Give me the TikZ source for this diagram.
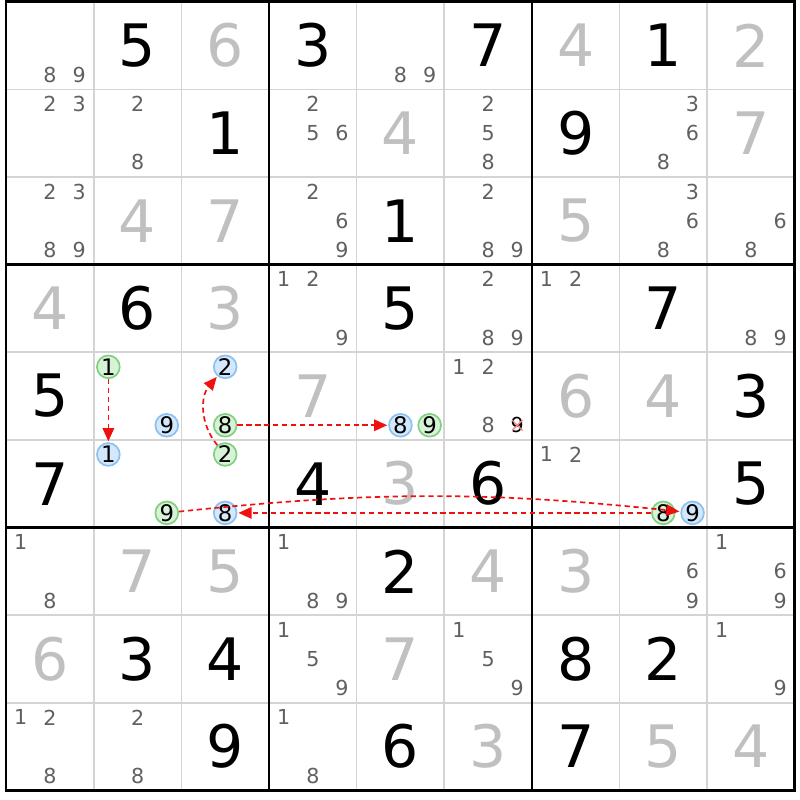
\documentclass[tikz,border=0pt]{standalone}
\usepackage{fontspec}
\setmainfont{DejaVu Sans}
\usepackage{xcolor}
\usetikzlibrary{arrows.meta, calc}

\definecolor{thingrid}{HTML}{D4D4D4}
\definecolor{candgray}{HTML}{606060}
\definecolor{solvedgray}{HTML}{C0C0C0}
\definecolor{blueon}{HTML}{D4E8FC}
\definecolor{blueedge}{HTML}{8CC0F0}
\definecolor{greenon}{HTML}{D8F2D8}
\definecolor{greenedge}{HTML}{80D080}
\definecolor{linkred}{HTML}{F01010}
\definecolor{crossred}{HTML}{F08888}

\begin{document}
\begin{tikzpicture}[
        clue/.style={
            text=black,
            font=\fontsize{19}{19}\selectfont,
            inner sep=0pt
        },
        solved/.style={
            clue,
            text=solvedgray
        },
        cand/.style={
            text=candgray,
            font=\fontsize{6.7}{7}\selectfont,
            inner sep=0pt
        },
        hlblue/.style={
            circle,
            draw=blueedge,
            fill=blueon,
            line width=0.55pt,
            minimum size=0.26cm,
            inner sep=0pt,
            font=\fontsize{7.4}{7.4}\selectfont
        },
        hlgreen/.style={
            hlblue,
            draw=greenedge,
            fill=greenon
        },
        link/.style={
            draw=linkred,
            line width=0.55pt,
            dash pattern=on 1.7pt off 1.2pt,
            -{Triangle[length=1.5mm,width=1.3mm]},
            shorten >=0.3pt
        }
    ]
        \useasboundingbox (-0.07,-9.11) rectangle (9.06,0.02);

        % Grid
        \foreach \i in {1,2,4,5,7,8} {
            \draw[thingrid, line width=0.55pt] (\i,0) -- (\i,-9);
            \draw[thingrid, line width=0.55pt] (0,-\i) -- (9,-\i);
        }
        \foreach \i in {0,3,6,9} {
            \draw[black, line width=0.85pt] (\i,0.014) -- (\i,-9.014);
            \draw[black, line width=0.85pt] (-0.014,-\i) -- (9.014,-\i);
        }

        % Given digits
        \foreach \r/\c/\d in {0/1/5, 0/3/3, 0/5/7, 0/7/1, 1/2/1, 1/6/9, 2/4/1,
                3/1/6, 3/4/5, 3/7/7, 4/0/5, 4/8/3, 5/0/7, 5/3/4, 5/5/6, 5/8/5,
                6/4/2, 7/1/3, 7/2/4, 7/6/8, 7/7/2, 8/2/9, 8/4/6, 8/6/7}
            \node[clue] (g\r\c) at (\c+0.5,-\r-0.5) {\d};

        % Solved digits
        \foreach \r/\c/\d in {0/2/6, 0/6/4, 0/8/2, 1/4/4, 1/8/7, 2/1/4, 2/2/7,
                2/6/5, 3/0/4, 3/2/3, 4/3/7, 4/6/6, 4/7/4, 5/4/3, 6/1/7, 6/2/5,
                6/5/4, 6/6/3, 7/0/6, 7/4/7, 8/5/3, 8/7/5, 8/8/4}
            \node[solved] (s\r\c) at (\c+0.5,-\r-0.5) {\d};

        % Candidates
        \foreach \r/\c/\k in {0/0/8, 0/0/9, 0/4/8, 0/4/9,
                1/0/2, 1/0/3, 1/1/2, 1/1/8, 1/3/2, 1/3/5, 1/3/6, 1/5/2, 1/5/5, 1/5/8,
                1/7/3, 1/7/6, 1/7/8,
                2/0/2, 2/0/3, 2/0/8, 2/0/9, 2/3/2, 2/3/6, 2/3/9, 2/5/2, 2/5/8, 2/5/9,
                2/7/3, 2/7/6, 2/7/8, 2/8/6, 2/8/8,
                3/3/1, 3/3/2, 3/3/9, 3/5/2, 3/5/8, 3/5/9, 3/6/1, 3/6/2, 3/8/8, 3/8/9,
                4/5/1, 4/5/2, 4/5/8, 5/6/1, 5/6/2,
                6/0/1, 6/0/8, 6/3/1, 6/3/8, 6/3/9, 6/7/6, 6/7/9, 6/8/1, 6/8/6, 6/8/9,
                7/3/1, 7/3/5, 7/3/9, 7/5/1, 7/5/5, 7/5/9, 7/8/1, 7/8/9,
                8/0/1, 8/0/2, 8/0/8, 8/1/2, 8/1/8, 8/3/1, 8/3/8}
            \node[cand] (c\r\c-\k) at ({\c+(mod(\k-1,3)+0.5)/3},{-\r-(floor((\k-1)/3)+0.5)/3}) {\k};

        % Eliminated candidate
        \node[cand, text=black] (c45-9) at ({5+2.5/3},{-4-2.5/3}) {9};
        \draw[crossred, line width=0.45pt] ($(c45-9)+(-0.06,-0.06)$) -- ($(c45-9)+(0.06,0.06)$);
        \draw[crossred, line width=0.45pt] ($(c45-9)+(-0.06,0.06)$) -- ($(c45-9)+(0.06,-0.06)$);

        % Highlighted candidates
        \node[hlgreen] (c41-1) at ({1+0.5/3},{-4-0.5/3}) {1};
        \node[hlblue] (c41-9) at ({1+2.5/3},{-4-2.5/3}) {9};
        \node[hlblue] (c42-2) at ({2+1.5/3},{-4-0.5/3}) {2};
        \node[hlgreen] (c42-8) at ({2+1.5/3},{-4-2.5/3}) {8};
        \node[hlblue] (c44-8) at ({4+1.5/3},{-4-2.5/3}) {8};
        \node[hlgreen] (c44-9) at ({4+2.5/3},{-4-2.5/3}) {9};
        \node[hlblue] (c51-1) at ({1+0.5/3},{-5-0.5/3}) {1};
        \node[hlgreen] (c51-9) at ({1+2.5/3},{-5-2.5/3}) {9};
        \node[hlgreen] (c52-2) at ({2+1.5/3},{-5-0.5/3}) {2};
        \node[hlblue] (c52-8) at ({2+1.5/3},{-5-2.5/3}) {8};
        \node[hlgreen] (c57-8) at ({7+1.5/3},{-5-2.5/3}) {8};
        \node[hlblue] (c57-9) at ({7+2.5/3},{-5-2.5/3}) {9};

        % Links
        \draw[link] (c41-1) -- (c51-1);
        \draw[link] (c52-2) to[bend left=40] (c42-2);
        \draw[link] (c42-8) -- (c44-8);
        \draw[link] (c51-9) to[bend left=6] (c57-9);
        \draw[link] (c57-8) -- (c52-8);

    \end{tikzpicture}
\end{document}
